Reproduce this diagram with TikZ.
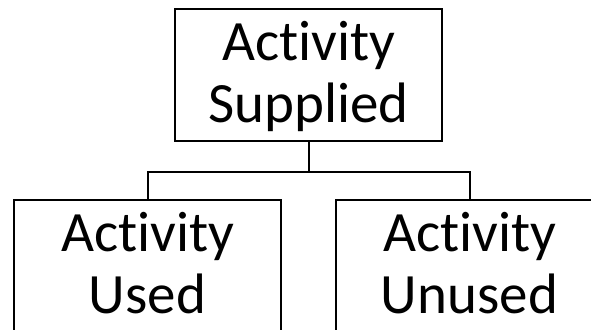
\documentclass[tikz,border=0pt]{standalone}
\usepackage{fontspec}
\setmainfont{Carlito}[Ligatures=NoCommon]
\begin{document}
\begin{tikzpicture}[x=1pt,y=1pt,node distance=322pt,auto]
	\tikzstyle{rect1} = [rectangle,line width=2pt,minimum width =267pt,minimum height =132pt,
	inner sep=0pt,align=center,font=\fontsize{57}{62}\selectfont, draw = black]
	\tikzstyle{line1} = [line width=2pt,draw=black]
	\useasboundingbox (0,0) rectangle (591,-329);
	\node (node1) [rect1] at (308.5,-75) {\rule{0pt}{52pt}Activity\\\strut Supplied};
	\node (node2) [rect1] at (147.5,-266) {\rule{0pt}{52pt}Activity\\\strut Used};
	\node (node3) [rect1, right of=node2] {\rule{0pt}{52pt}Activity\\\strut Unused};
	\draw [line1] (node1.south) -- ++(0,-30) coordinate (fork);
	\draw [line1] (fork) -| (node2.north);
	\draw [line1] (fork) -| (node3.north);
\end{tikzpicture}
\end{document}
